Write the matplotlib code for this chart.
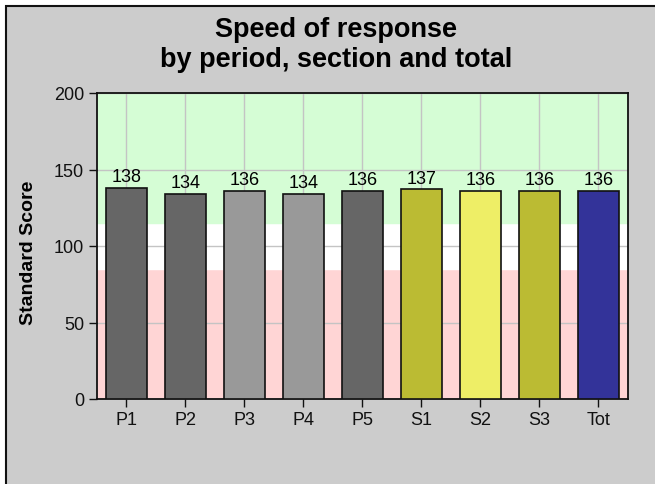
import numpy as np
import matplotlib.pyplot as plt
from matplotlib.patches import Rectangle

plt.rcParams['font.family'] = ['Liberation Sans', 'DejaVu Sans']

labels = ['P1', 'P2', 'P3', 'P4', 'P5', 'S1', 'S2', 'S3', 'Tot']
scores = [138, 134, 136, 134, 136, 137, 136, 136, 136]
colors = ['#666666', '#666666', '#999999', '#999999', '#666666',
          '#BBBB33', '#EEEE66', '#BBBB33', '#333399']
low_cut, high_cut = 85, 115
y_max = 200

fig = plt.figure(figsize=(6.55, 4.85), dpi=100)
fig.patch.set_facecolor('white')
# gray panel with dark frame
fig.patches.append(Rectangle((6/655, -0.01), 1, 1.01 - 7/485, transform=fig.transFigure,
                             facecolor='#CCCCCC', edgecolor='#111111', linewidth=1.5, zorder=-10))

ax = fig.add_axes([96.7/655, 1 - 400/485, (628 - 96.7)/655, (400 - 94)/485])
x = np.arange(len(labels))
ax.set_xlim(-0.5, len(labels) - 0.5)
ax.set_ylim(0, y_max)

# score bands
ax.axhspan(0, low_cut, color='#FFD5D5', zorder=0)
ax.axhspan(low_cut, high_cut, color='white', zorder=0)
ax.axhspan(high_cut, y_max, color='#D5FDD5', zorder=0)

ax.set_yticks([0, 50, 100, 150, 200])
ax.set_xticks(x)
ax.set_xticklabels(labels)
ax.grid(True, color='#C4C4C4', linewidth=1, zorder=1)
ax.set_axisbelow(True)

bars = ax.bar(x, scores, width=0.7, color=colors, edgecolor='#111111', linewidth=1.2, zorder=3)
for xi, s in zip(x, scores):
    ax.text(xi, s + 4.5, str(s), ha='center', va='baseline', fontsize=13, zorder=4)

for sp in ax.spines.values():
    sp.set_color('#111111')
    sp.set_linewidth(1.3)
ax.tick_params(axis='both', direction='out', length=6, width=1, labelsize=13,
               colors='#111111', pad=3)
ax.set_ylabel('Standard Score', fontsize=14, fontweight='bold')
ax.yaxis.set_label_coords(-0.1124, 0.482)

fig.text(0.513, 1 - 37/485, 'Speed of response', ha='center', va='baseline',
         fontsize=19.5, fontweight='bold')
fig.text(0.513, 1 - 67/485, 'by period, section and total', ha='center', va='baseline',
         fontsize=19.5, fontweight='bold')

plt.savefig('out.png', dpi=100)
